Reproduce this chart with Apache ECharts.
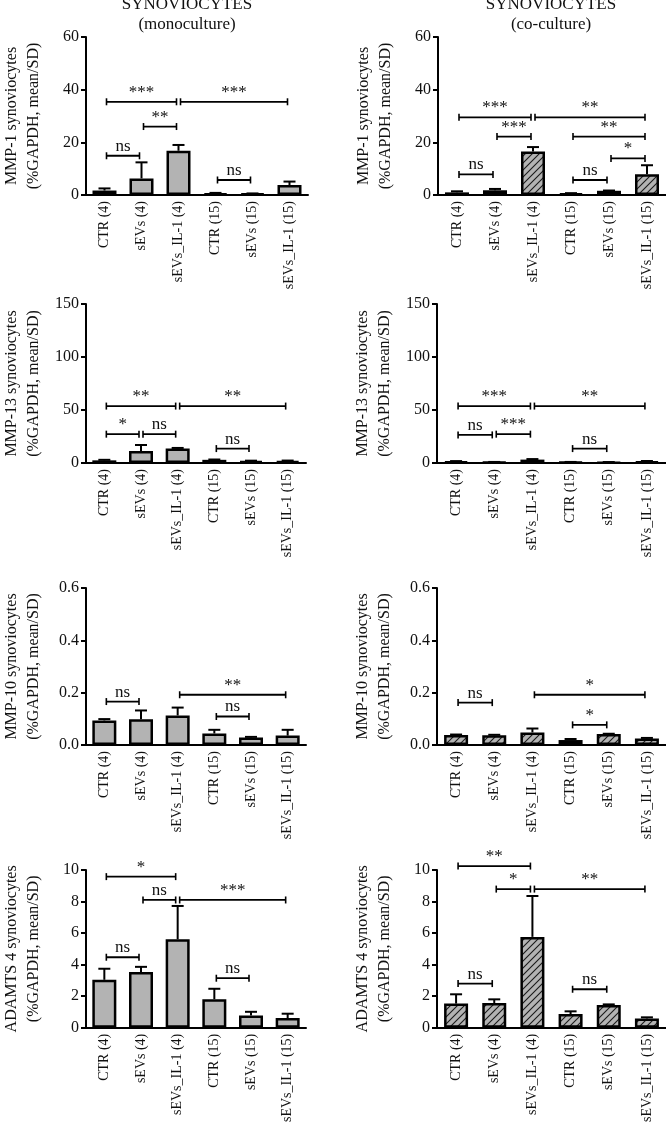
<!DOCTYPE html>
<html><head><meta charset="utf-8">
<script src="https://cdn.jsdelivr.net/npm/echarts@6/dist/echarts.min.js"></script>
<style>html,body{margin:0;padding:0;background:#fff;}#c{width:666px;height:1125px;}</style>
</head><body><div id="c"></div>
<script>
const categories = ['CTR (4)', 'sEVs (4)', 'sEVs_IL-1 (4)', 'CTR (15)', 'sEVs (15)', 'sEVs_IL-1 (15)'];
const titleLeft = ['SYNOVIOCYTES', '(monoculture)'];
const titleRight = ['SYNOVIOCYTES', '(co-culture)'];
const yNameLine2 = '(%GAPDH, mean/SD)';

// MMP-1
const mmp1MonoMean = [1.7, 6.3, 16.8, 0.6, 0.5, 3.8];
const mmp1MonoSd = [0.8, 6.1, 2.2, 0.2, 0.1, 1.3];
const mmp1MonoSig = [[0, 1, 14.9, 'ns'], [1, 2, 26, '**'], [0, 2, 35.4, '***'], [2, 5, 35.4, '***'], [3, 4, 5.7, 'ns']];
const mmp1CoMean = [1.0, 1.8, 16.5, 0.6, 1.6, 7.9];
const mmp1CoSd = [0.4, 0.5, 1.7, 0.1, 0.1, 3.4];
const mmp1CoSig = [[0, 2, 29.5, '***'], [2, 5, 29.5, '**'], [1, 2, 22.2, '***'], [3, 5, 22.2, '**'], [4, 5, 13.9, '*'], [0, 1, 7.8, 'ns'], [3, 4, 5.7, 'ns']];
const mmp1Axis = [0, 60, 20];

// MMP-13
const mmp13MonoMean = [2.5, 11.4, 13.6, 3.0, 1.9, 1.9];
const mmp13MonoSd = [0.5, 5.6, 0.6, 0.3, 0.3, 0.4];
const mmp13MonoSig = [[0, 2, 53.7, '**'], [2, 5, 53.7, '**'], [0, 1, 27.2, '*'], [1, 2, 27.2, 'ns'], [3, 4, 13.6, 'ns']];
const mmp13CoMean = [1.5, 0.8, 3.2, 0.8, 0.7, 1.5];
const mmp13CoSd = [0.3, 0.2, 0.5, 0.2, 0.2, 0.4];
const mmp13CoSig = [[0, 2, 53.7, '***'], [2, 5, 53.7, '**'], [0, 1, 26.5, 'ns'], [1, 2, 27.2, '***'], [3, 4, 13.6, 'ns']];
const mmp13Axis = [0, 150, 50];

// MMP-10
const mmp10MonoMean = [0.094, 0.098, 0.113, 0.044, 0.029, 0.036];
const mmp10MonoSd = [0.005, 0.034, 0.030, 0.014, 0.002, 0.022];
const mmp10MonoSig = [[0, 1, 0.166, 'ns'], [2, 5, 0.192, '**'], [3, 4, 0.109, 'ns']];
const mmp10CoMean = [0.038, 0.037, 0.048, 0.019, 0.042, 0.025];
const mmp10CoSd = [0.002, 0.002, 0.015, 0.004, 0.001, 0.002];
const mmp10CoSig = [[0, 1, 0.162, 'ns'], [2, 5, 0.192, '*'], [3, 4, 0.077, '*']];
const mmp10Axis = [0, 0.6, 0.2];

// ADAMTS 4
const adamtsMonoMean = [3.04, 3.54, 5.61, 1.81, 0.78, 0.61];
const adamtsMonoSd = [0.70, 0.32, 2.11, 0.66, 0.23, 0.28];
const adamtsMonoSig = [[0, 2, 9.58, '*'], [1, 2, 8.1, 'ns'], [2, 5, 8.1, '***'], [0, 1, 4.47, 'ns'], [3, 4, 3.14, 'ns']];
const adamtsCoMean = [1.53, 1.57, 5.76, 0.87, 1.44, 0.59];
const adamtsCoSd = [0.59, 0.23, 2.59, 0.17, 0.04, 0.07];
const adamtsCoSig = [[0, 2, 10.25, '**'], [1, 2, 8.79, '*'], [2, 5, 8.79, '**'], [0, 1, 2.8, 'ns'], [3, 4, 2.44, 'ns']];
const adamtsAxis = [0, 10, 2];

const FONT = 'Liberation Serif';
const GRAY = '#b3b3b3';

function makeHatch() {
  const s = 7;
  const c = document.createElement('canvas');
  c.width = s; c.height = s;
  const g = c.getContext('2d');
  g.fillStyle = GRAY; g.fillRect(0, 0, s, s);
  g.strokeStyle = '#1a1a1a'; g.lineWidth = 1.1;
  g.beginPath();
  g.moveTo(-1, s + 1); g.lineTo(s + 1, -1);
  g.moveTo(-1, 1); g.lineTo(1, -1);
  g.moveTo(s - 1, s + 1); g.lineTo(s + 1, s - 1);
  g.stroke();
  return c;
}
const hatch = makeHatch();

const panels = [
  { left: 79, top: 37, height: 158, name: 'MMP-1 synoviocytes', axis: mmp1Axis, mean: mmp1MonoMean, sd: mmp1MonoSd, sig: mmp1MonoSig, hatched: false, dec: 0 },
  { left: 438, top: 37, height: 158, name: 'MMP-1 synoviocytes', axis: mmp1Axis, mean: mmp1CoMean, sd: mmp1CoSd, sig: mmp1CoSig, hatched: true, dec: 0 },
  { left: 77, top: 304, height: 159, name: 'MMP-13 synoviocytes', axis: mmp13Axis, mean: mmp13MonoMean, sd: mmp13MonoSd, sig: mmp13MonoSig, hatched: false, dec: 0 },
  { left: 437, top: 304, height: 159, name: 'MMP-13 synoviocytes', axis: mmp13Axis, mean: mmp13CoMean, sd: mmp13CoSd, sig: mmp13CoSig, hatched: true, dec: 0 },
  { left: 77, top: 588, height: 157, name: 'MMP-10 synoviocytes', axis: mmp10Axis, mean: mmp10MonoMean, sd: mmp10MonoSd, sig: mmp10MonoSig, hatched: false, dec: 1 },
  { left: 437, top: 588, height: 157, name: 'MMP-10 synoviocytes', axis: mmp10Axis, mean: mmp10CoMean, sd: mmp10CoSd, sig: mmp10CoSig, hatched: true, dec: 1 },
  { left: 77, top: 870, height: 158, name: 'ADAMTS 4 synoviocytes', axis: adamtsAxis, mean: adamtsMonoMean, sd: adamtsMonoSd, sig: adamtsMonoSig, hatched: false, dec: 0 },
  { left: 437, top: 870, height: 158, name: 'ADAMTS 4 synoviocytes', axis: adamtsAxis, mean: adamtsCoMean, sd: adamtsCoSd, sig: adamtsCoSig, hatched: true, dec: 0 }
];

const grid = [], xAxis = [], yAxis = [], series = [];

panels.forEach((p, i) => {
  grid.push({ left: p.left, top: p.top, width: 229, height: p.height, containLabel: false });
  xAxis.push({
    type: 'category', gridIndex: i, data: categories,
    axisLine: { lineStyle: { color: '#000', width: 2 } },
    axisTick: { alignWithLabel: true, length: 5, lineStyle: { color: '#000', width: 2 } },
    axisLabel: { rotate: 90, margin: 6, fontFamily: FONT, fontSize: 14, color: '#111', interval: 0 },
    splitLine: { show: false }
  });
  yAxis.push({
    type: 'value', gridIndex: i, min: p.axis[0], max: p.axis[1], interval: p.axis[2],
    name: p.name + '\n' + yNameLine2, nameLocation: 'middle', nameGap: 41, nameRotate: 90,
    nameTextStyle: { fontFamily: FONT, fontSize: 16, color: '#111', lineHeight: 22 },
    axisLine: { show: true, lineStyle: { color: '#000', width: 2 } },
    axisTick: { show: true, length: 5, lineStyle: { color: '#000', width: 2 } },
    axisLabel: { fontFamily: FONT, fontSize: 16, color: '#111', margin: 7,
      formatter: v => v.toFixed(p.dec) },
    splitLine: { show: false }
  });
  series.push({
    type: 'bar', xAxisIndex: i, yAxisIndex: i, data: p.mean, barWidth: 24,
    itemStyle: { color: p.hatched ? { image: hatch, repeat: 'repeat' } : GRAY, borderColor: '#000', borderWidth: 2.5 },
    animation: false, silent: true
  });
  series.push({
    type: 'custom', xAxisIndex: i, yAxisIndex: i, z: 3, animation: false, silent: true,
    data: p.mean.map((m, k) => [k, m, p.sd[k]]),
    encode: { x: 0, y: 1 },
    renderItem: (params, api) => {
      const x = api.value(0), m = api.value(1), s = api.value(2);
      const a = api.coord([x, m]), b = api.coord([x, m + s]);
      return { type: 'group', children: [
        { type: 'line', shape: { x1: a[0], y1: a[1], x2: b[0], y2: b[1] }, style: { stroke: '#000', lineWidth: 2 } },
        { type: 'line', shape: { x1: b[0] - 6, y1: b[1], x2: b[0] + 6, y2: b[1] }, style: { stroke: '#000', lineWidth: 2 } }
      ] };
    }
  });
  series.push({
    type: 'custom', xAxisIndex: i, yAxisIndex: i, z: 4, animation: false, silent: true, clip: false,
    data: p.sig.map(s => [s[0], s[1], s[2]]),
    encode: { x: [0, 1], y: 2 },
    renderItem: (params, api) => {
      const lab = p.sig[params.dataIndex][3];
      const a = api.coord([api.value(0), api.value(2)]);
      const b = api.coord([api.value(1), api.value(2)]);
      const x1 = a[0] + 2, x2 = b[0] - 2, y = a[1];
      return { type: 'group', children: [
        { type: 'line', shape: { x1: x1, y1: y, x2: x2, y2: y }, style: { stroke: '#000', lineWidth: 1.8 } },
        { type: 'line', shape: { x1: x1, y1: y - 3.5, x2: x1, y2: y + 3.5 }, style: { stroke: '#000', lineWidth: 1.6 } },
        { type: 'line', shape: { x1: x2, y1: y - 3.5, x2: x2, y2: y + 3.5 }, style: { stroke: '#000', lineWidth: 1.6 } },
        { type: 'text', x: (x1 + x2) / 2, y: y - 1,
          style: { text: lab, font: '17px "' + FONT + '"', fill: '#111', align: 'center', verticalAlign: 'bottom' } }
      ] };
    }
  });
});

const graphic = [
  { type: 'text', x: 187, y: 5, style: { text: titleLeft[0], font: '17px "' + FONT + '"', fill: '#111', align: 'center', verticalAlign: 'middle' } },
  { type: 'text', x: 187, y: 25, style: { text: titleLeft[1], font: '17px "' + FONT + '"', fill: '#111', align: 'center', verticalAlign: 'middle' } },
  { type: 'text', x: 551, y: 5, style: { text: titleRight[0], font: '17px "' + FONT + '"', fill: '#111', align: 'center', verticalAlign: 'middle' } },
  { type: 'text', x: 551, y: 25, style: { text: titleRight[1], font: '17px "' + FONT + '"', fill: '#111', align: 'center', verticalAlign: 'middle' } }
];

const chart = echarts.init(document.getElementById('c'), null, { renderer: 'canvas' });
chart.setOption({ animation: false, backgroundColor: '#fff', grid, xAxis, yAxis, series, graphic });
</script></body></html>
